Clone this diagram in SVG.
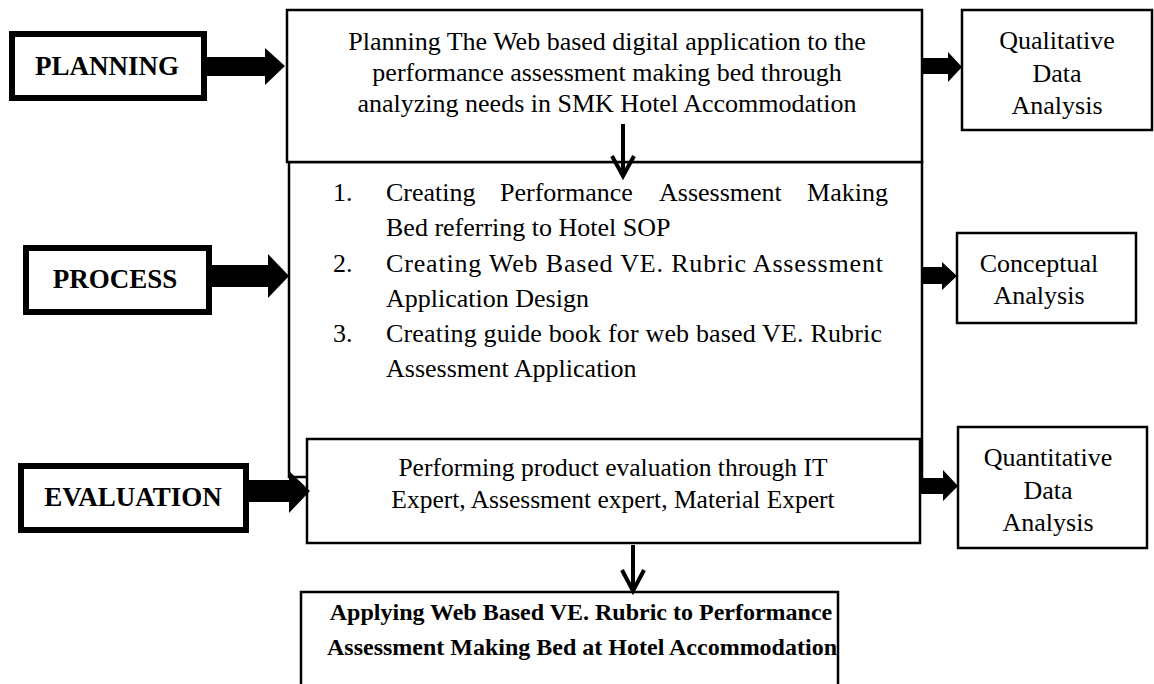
<svg xmlns="http://www.w3.org/2000/svg" width="1154" height="684" viewBox="0 0 1154 684">
<style>
.box{fill:#fff;stroke:#000;stroke-width:2.5}
.lbl{fill:#fff;stroke:#000;stroke-width:6}
.t{font-family:"Liberation Serif","Times New Roman",serif;font-size:26px;fill:#000}
.e{font-family:"Liberation Serif","Times New Roman",serif;font-size:25.5px;fill:#000}
.b{font-family:"Liberation Serif","Times New Roman",serif;font-size:24px;font-weight:bold;fill:#000}
.L{font-family:"Liberation Serif","Times New Roman",serif;font-size:27px;font-weight:bold;fill:#000}
.c{text-anchor:middle}
.blk{fill:#000;stroke:none}
.dn{fill:none;stroke:#000;stroke-width:4}
</style>
<rect width="1154" height="684" fill="#fff"/>
<g id="process">
<rect class="box" x="289" y="162" width="633" height="315"/>
<text class="t" x="333" y="201">1.</text>
<text class="t" x="386" y="201">Creating</text>
<text class="t" x="500" y="201">Performance</text>
<text class="t" x="659" y="201">Assessment</text>
<text class="t" x="888" y="201" text-anchor="end">Making</text>
<text class="t" x="386" y="236">Bed referring to Hotel SOP</text>
<text class="t" x="333" y="272">2.</text>
<text class="t" x="386" y="272" textLength="497" lengthAdjust="spacing">Creating Web Based VE. Rubric Assessment</text>
<text class="t" x="386" y="307">Application Design</text>
<text class="t" x="333" y="342">3.</text>
<text class="t" x="386" y="342" textLength="496" lengthAdjust="spacing">Creating guide book for web based VE. Rubric</text>
<text class="t" x="386" y="377">Assessment Application</text>
</g>
<g id="planning-main">
<rect class="box" x="287" y="10" width="635" height="152"/>
<text class="t c" x="607" y="50">Planning The Web based digital application to the</text>
<text class="t c" x="607" y="81">performance assessment making bed through</text>
<text class="t c" x="607" y="112">analyzing needs in SMK Hotel Accommodation</text>
</g>
<g id="evaluation-main">
<rect class="box" x="307" y="439" width="613" height="104"/>
<text class="e c" x="613" y="476">Performing product evaluation through IT</text>
<text class="e c" x="613" y="508">Expert, Assessment expert, Material Expert</text>
</g>
<g id="planning-label">
<rect class="lbl" x="12" y="34" width="192" height="64"/>
<text class="L c" x="107" y="75">PLANNING</text>
</g>
<g id="process-label">
<rect class="lbl" x="26" y="248" width="183" height="64"/>
<text class="L c" x="115" y="288">PROCESS</text>
</g>
<g id="evaluation-label">
<rect class="lbl" x="21" y="466" width="225" height="64"/>
<text class="L c" x="133" y="506">EVALUATION</text>
</g>
<g id="qualitative">
<rect class="box" x="962" y="10" width="190" height="120"/>
<text class="t c" x="1057" y="49">Qualitative</text>
<text class="t c" x="1057" y="82">Data</text>
<text class="t c" x="1057" y="114">Analysis</text>
</g>
<g id="conceptual">
<rect class="box" x="957" y="233" width="179" height="90"/>
<text class="t c" x="1039" y="272">Conceptual</text>
<text class="t c" x="1039" y="304">Analysis</text>
</g>
<g id="quantitative">
<rect class="box" x="958" y="427" width="189" height="121"/>
<text class="t c" x="1048" y="466">Quantitative</text>
<text class="t c" x="1048" y="499">Data</text>
<text class="t c" x="1048" y="531">Analysis</text>
</g>
<g id="applying">
<path class="box" d="M301,690 V592 H838 V690" fill="none"/>
<text class="b c" x="581" y="620">Applying Web Based VE. Rubric to Performance</text>
<text class="b c" x="582" y="655">Assessment Making Bed at Hotel Accommodation</text>
</g>
<g id="connectors">
<polygon class="blk" points="207,57 265,57 265,48 285,66 265,85 265,76 207,76"/>
<polygon class="blk" points="212,265 268,265 268,254 289,276 268,298 268,287 212,287"/>
<polygon class="blk" points="249,480 289,480 289,471 310,491 289,513 289,502 249,502"/>
<polygon class="blk" points="922,58 948,58 948,52 962,67 948,82 948,74 922,74"/>
<polygon class="blk" points="922,267 942,267 942,262 957,276 942,290 942,284 922,284"/>
<polygon class="blk" points="920,478 943,478 943,470 958,486 943,501 943,494 920,494"/>
<line class="dn" x1="623" y1="124" x2="623" y2="174"/>
<polyline class="dn" points="612,156 623,176 634,156"/>
<line class="dn" x1="633" y1="545" x2="633" y2="590"/>
<polyline class="dn" points="622,570 633,591 644,570"/>
</g>
</svg>
